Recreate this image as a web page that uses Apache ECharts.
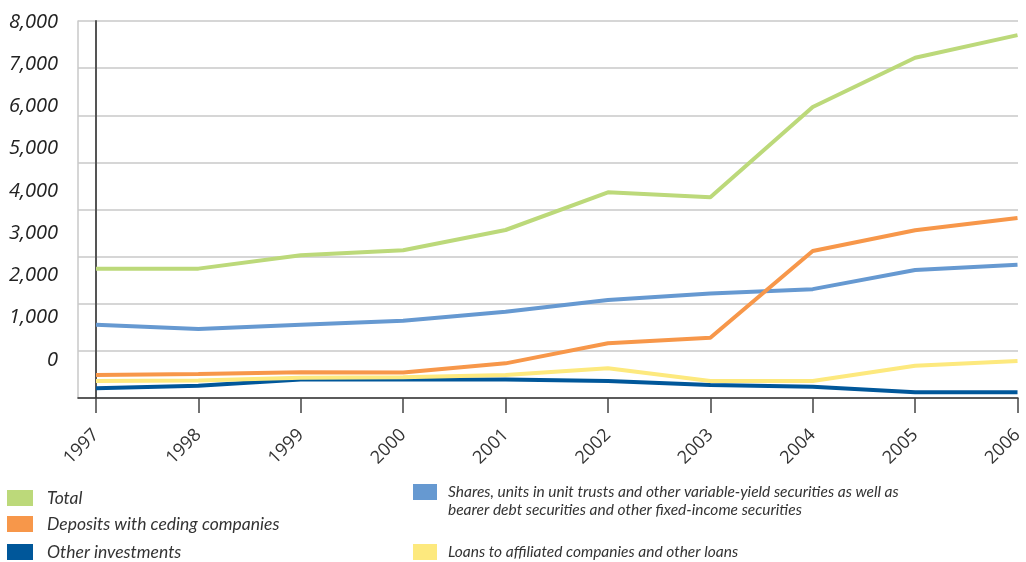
<!DOCTYPE html>
<html>
<head>
<meta charset="utf-8">
<style>
  html, body { margin: 0; padding: 0; background: #fff; }
  #chart { width: 1026px; height: 562px; }
</style>
<script src="https://cdn.jsdelivr.net/npm/echarts@6/dist/echarts.min.js"></script>
</head>
<body>
<div id="chart"></div>
<script>
// Investment portfolio by category, 1997-2006 (EUR million)
const years = ['1997', '1998', '1999', '2000', '2001', '2002', '2003', '2004', '2005', '2006'];

const total        = [2745, 2745, 3030, 3135, 3565, 4365, 4260, 6175, 7220, 7700];
const deposits     = [490, 510, 545, 540, 735, 1160, 1280, 3120, 3560, 3820];
const otherInv     = [205, 260, 395, 395, 395, 360, 275, 240, 120, 120];
const shares       = [1555, 1465, 1555, 1640, 1830, 2080, 2220, 2310, 2715, 2830];
const loans        = [360, 370, 430, 440, 490, 630, 360, 360, 685, 785];

const yTickValues  = [0, 1000, 2000, 3000, 4000, 5000, 6000, 7000, 8000];

const NAME_TOTAL    = 'Total';
const NAME_DEPOSITS = 'Deposits with ceding companies';
const NAME_OTHER    = 'Other investments';
const NAME_SHARES   = 'Shares, units in unit trusts and other variable-yield securities as well as bearer debt securities and other fixed-income securities';
const NAME_LOANS    = 'Loans to affiliated companies and other loans';

const SHARES_LINES  = [
  'Shares, units in unit trusts and other variable-yield securities as well as',
  'bearer debt securities and other fixed-income securities'
];

const COLORS = {
  total: '#bcd97a',
  deposits: '#f7974a',
  other: '#00579a',
  shares: '#6699d1',
  loans: '#fde97e'
};

const labelFont = '"Open Sans", sans-serif';
const legendFont = 'Lato, "Open Sans", sans-serif';

const chart = echarts.init(document.getElementById('chart'), null, { renderer: 'canvas' });

function line(name, data, color) {
  return {
    name, type: 'line', data,
    xAxisIndex: 1, yAxisIndex: 1,
    symbol: 'none', smooth: false,
    lineStyle: { color, width: 4 },
    itemStyle: { color },
    emphasis: { disabled: true },
    animation: false
  };
}

// one legend block per entry so each swatch sits where it belongs
function legendItem(name, left, top, width, gap, size, extra) {
  return Object.assign({
    data: [name],
    orient: 'vertical', left, top,
    itemWidth: width, itemHeight: 16, icon: 'rect', selectedMode: false,
    padding: 0,
    textStyle: {
      fontFamily: legendFont, fontStyle: 'italic', fontSize: size, color: '#333',
      lineHeight: 18, padding: [0, 0, 0, gap]
    }
  }, extra || {});
}

chart.setOption({
  animation: false,
  grid: [
    { left: 78, right: 8, top: 21, bottom: 164 },
    { left: 96, right: 8, top: 21, bottom: 164 }
  ],
  xAxis: [
    {
      gridIndex: 0, type: 'value', min: 0, max: 1,
      axisLine: { show: true, lineStyle: { color: '#333', width: 1.5 } },
      axisTick: { show: false }, axisLabel: { show: false }, splitLine: { show: false }
    },
    {
      gridIndex: 1, type: 'category', data: years, boundaryGap: false,
      axisLine: { show: false },
      axisTick: { show: true, length: 15, lineStyle: { color: '#444', width: 1.5 } },
      axisLabel: {
        rotate: 45, margin: 34, interval: 0,
        fontFamily: labelFont, fontSize: 18, color: '#333'
      },
      splitLine: { show: false }
    }
  ],
  yAxis: [
    {
      // grid lines and right frame
      gridIndex: 0, type: 'value', min: 0, max: 8000, interval: 1000, position: 'right',
      axisLine: { show: true, lineStyle: { color: '#c8c8c8', width: 1.5 } },
      axisTick: { show: false }, axisLabel: { show: false },
      splitLine: { show: true, lineStyle: { color: '#c8c8c8', width: 1.5 } }
    },
    {
      // value scale for the lines
      gridIndex: 1, type: 'value', min: 0, max: 8000, interval: 1000,
      axisLine: { show: true, lineStyle: { color: '#555', width: 2 } },
      axisTick: { show: false }, axisLabel: { show: false }, splitLine: { show: false }
    },
    {
      // tick label column
      gridIndex: 1, type: 'value', min: -900, max: 8024, position: 'left',
      axisLine: { show: false }, axisTick: { show: false }, splitLine: { show: false },
      axisLabel: {
        customValues: yTickValues,
        margin: 38,
        fontFamily: labelFont, fontStyle: 'italic', fontSize: 20, color: '#222',
        formatter: v => v.toLocaleString('en-US')
      }
    }
  ],
  legend: [
    legendItem(NAME_TOTAL, 7, 489, 26, 9, 17.5),
    legendItem(NAME_DEPOSITS, 7, 515, 26, 9, 17.5),
    legendItem(NAME_OTHER, 7, 543, 26, 9, 17.5),
    legendItem(NAME_SHARES, 413, 465, 24, 6, 15.5, {
      formatter: () => '\n' + SHARES_LINES.join('\n')
    }),
    legendItem(NAME_LOANS, 413, 543, 24, 6, 15.5)
  ],
  series: [
    line(NAME_OTHER, otherInv, COLORS.other),
    line(NAME_LOANS, loans, COLORS.loans),
    line(NAME_SHARES, shares, COLORS.shares),
    line(NAME_DEPOSITS, deposits, COLORS.deposits),
    line(NAME_TOTAL, total, COLORS.total)
  ]
});
</script>
</body>
</html>
